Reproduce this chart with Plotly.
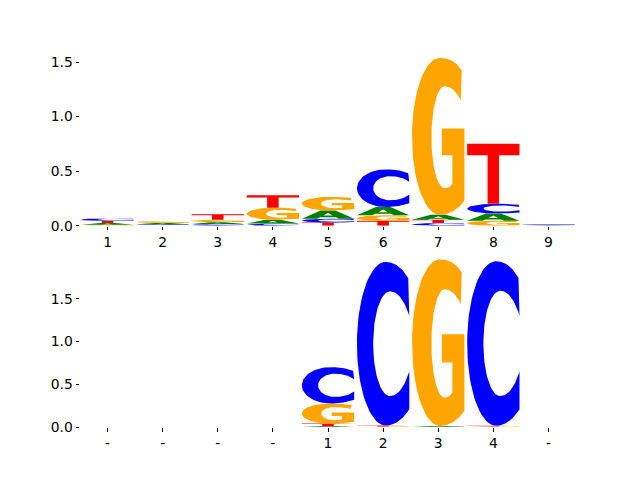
import numpy as np
import plotly.graph_objects as go

# ---------------- data ----------------
letters = ["A", "C", "G", "T"]
top_positions = [1, 2, 3, 4, 5, 6, 7, 8, 9]
top_tick_labels = ["1", "2", "3", "4", "5", "6", "7", "8", "9"]
top_A = [0.018, 0.012, 0.018, 0.035, 0.075, 0.076, 0.045, 0.068, 0.004]
top_C = [0.021, 0.008, 0.015, 0.020, 0.035, 0.345, 0.025, 0.088, 0.006]
top_G = [0.008, 0.016, 0.022, 0.110, 0.125, 0.050, 1.437, 0.045, 0.002]
top_T = [0.020, 0.006, 0.050, 0.115, 0.030, 0.045, 0.030, 0.550, 0.005]

bot_positions = [1, 2, 3, 4, 5, 6, 7, 8, 9]
bot_tick_labels = ["-", "-", "-", "-", "1", "2", "3", "4", "-"]
bot_A = [0, 0, 0, 0, 0.010, 0.001, 0.010, 0.001, 0]
bot_C = [0, 0, 0, 0, 0.425, 1.915, 0.002, 1.925, 0]
bot_G = [0, 0, 0, 0, 0.235, 0.004, 1.950, 0.004, 0]
bot_T = [0, 0, 0, 0, 0.030, 0.012, 0.001, 0.010, 0]

y_ticks = [0.0, 0.5, 1.0, 1.5]
colors = {"A": "#008000", "C": "#0000ff", "G": "#ffa500", "T": "#ff0000"}

# ---------------- glyph outlines (unit box) ----------------
def qbez(p0, p1, p2, n=24):
    t = np.linspace(0, 1, n)
    x = (1 - t) ** 2 * p0[0] + 2 * (1 - t) * t * p1[0] + t ** 2 * p2[0]
    y = (1 - t) ** 2 * p0[1] + 2 * (1 - t) * t * p1[1] + t ** 2 * p2[1]
    return list(zip(x, y))

def ell(cx, cy, rx, ry, a0, a1, n=48):
    a = np.radians(np.linspace(a0, a1, n))
    return list(zip(cx + rx * np.cos(a), cy + ry * np.sin(a)))

def glyph_C():
    p = []
    p += qbez((0.98, 0.90), (0.80, 1.0), (0.55, 1.0))
    p += ell(0.55, 0.5, 0.55, 0.5, 90, 270)
    p += qbez((0.55, 0.0), (0.80, 0.0), (1.0, 0.10))
    p += [(1.0, 0.33)]
    p += qbez((1.0, 0.33), (0.85, 0.18), (0.63, 0.18))
    p += ell(0.63, 0.5, 0.32, 0.32, 270, 90)
    p += qbez((0.63, 0.82), (0.85, 0.82), (1.0, 0.67))
    p += [(0.98, 0.90)]
    return p

def glyph_G():
    p = []
    p += qbez((0.95, 0.92), (0.80, 1.0), (0.53, 1.0))
    p += ell(0.53, 0.5, 0.53, 0.5, 90, 270)
    p += qbez((0.53, 0.0), (0.80, 0.0), (1.0, 0.09))
    p += [(1.0, 0.55), (0.57, 0.55), (0.57, 0.38), (0.77, 0.38), (0.77, 0.20)]
    p += qbez((0.77, 0.20), (0.72, 0.17), (0.62, 0.17))
    p += ell(0.62, 0.495, 0.25, 0.325, 270, 90)
    p += qbez((0.62, 0.82), (0.80, 0.82), (0.93, 0.73))
    p += [(0.95, 0.92)]
    return p

def glyph_T():
    return [(0, 1), (1, 1), (1, 0.81), (0.61, 0.81), (0.61, 0), (0.39, 0),
            (0.39, 0.81), (0, 0.81), (0, 1)]

def glyph_A():
    outer = [(0.5, 1.0), (0.36, 1.0), (0.0, 0.0), (0.29, 0.0), (0.35, 0.18),
             (0.65, 0.18), (0.71, 0.0), (1.0, 0.0), (0.64, 1.0), (0.5, 1.0)]
    hole = [(0.5, 0.70), (0.59, 0.37), (0.41, 0.37), (0.5, 0.70)]
    return outer + hole + [(0.5, 1.0)]

GLYPHS = {"A": glyph_A(), "C": glyph_C(), "G": glyph_G(), "T": glyph_T()}

# ---------------- figure ----------------
fig = go.Figure()
WIDTH = 0.95

def add_logo(positions, A, C, G, T, xa, ya):
    for i, pos in enumerate(positions):
        vals = {"A": A[i], "C": C[i], "G": G[i], "T": T[i]}
        order = sorted(letters, key=lambda k: vals[k])
        base = 0.0
        for L in order:
            h = vals[L]
            if h <= 0:
                continue
            g = np.array(GLYPHS[L])
            xs = pos - WIDTH / 2 + WIDTH * g[:, 0]
            ys = base + h * g[:, 1]
            fig.add_trace(go.Scatter(
                x=xs, y=ys, mode="lines", fill="toself",
                fillcolor=colors[L], line=dict(width=0, color=colors[L]),
                hoverinfo="skip", showlegend=False, xaxis=xa, yaxis=ya))
            base += h

add_logo(top_positions, top_A, top_C, top_G, top_T, "x", "y")
add_logo(bot_positions, bot_A, bot_C, bot_G, bot_T, "x2", "y2")

top_max = max(a + c + g + t for a, c, g, t in zip(top_A, top_C, top_G, top_T))
bot_max = max(a + c + g + t for a, c, g, t in zip(bot_A, bot_C, bot_G, bot_T))

font = dict(family="DejaVu Sans", size=13.9, color="black")
axcommon = dict(showgrid=False, zeroline=False, showline=False, ticks="outside",
                ticklen=3.5, tickwidth=0.8, tickcolor="black", tickfont=font,
                automargin=False)

# panel geometry in pixels (matplotlib default subplot layout)
H = 472
top_px, bot_px = 57.6, 427.2
area = bot_px - top_px
panel = 168.0
fig.update_layout(
    width=640, height=H, autosize=False,
    margin=dict(l=80, r=64, t=top_px, b=H - bot_px, pad=0),
    paper_bgcolor="white", plot_bgcolor="white",
    xaxis=dict(domain=[0, 1], range=[0.5, 9.5], anchor="y",
               tickvals=top_positions, ticktext=top_tick_labels, **axcommon),
    yaxis=dict(domain=[1 - panel / area, 1], range=[0, top_max], anchor="x",
               tickvals=y_ticks, ticktext=[f"{v:.1f}" for v in y_ticks], **axcommon),
    xaxis2=dict(domain=[0, 1], range=[0.5, 9.5], anchor="y2",
                tickvals=bot_positions, ticktext=bot_tick_labels, **axcommon),
    yaxis2=dict(domain=[0, panel / area], range=[0, bot_max], anchor="x2",
                tickvals=y_ticks, ticktext=[f"{v:.1f}" for v in y_ticks], **axcommon),
)

fig.write_html("out.html",
               config={"displayModeBar": False, "responsive": False},
               post_script="document.body.style.margin='0';document.body.style.overflow='hidden';")
